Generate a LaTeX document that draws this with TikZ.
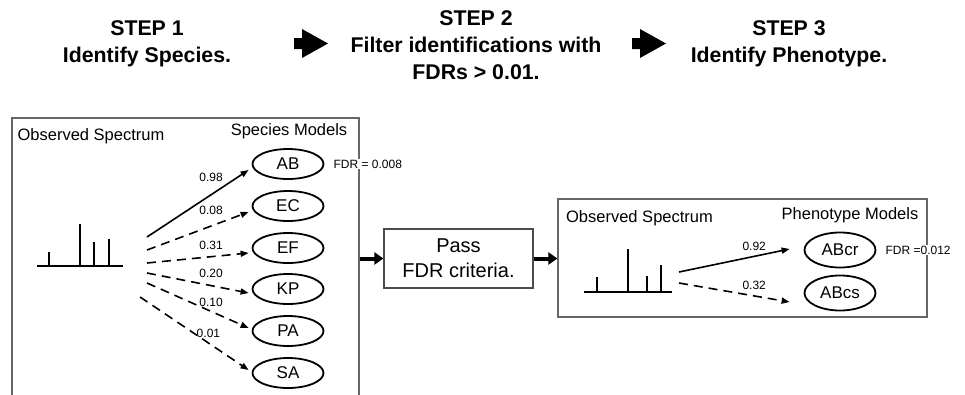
\documentclass[tikz,border=0pt]{standalone}
\usepackage{fontspec}
\setmainfont{Liberation Sans}
\usepackage{tikz}
\usetikzlibrary{arrows.meta,shapes.geometric,positioning}

\begin{document}
\begin{tikzpicture}[x=1pt,y=-1pt,
            title/.style={align=center, font=\fontsize{21.3}{27}\selectfont\bfseries},
            frame/.style={draw=black!60, line width=1.2pt, inner sep=0pt},
            txt/.style={font=\fontsize{16.5}{20}\selectfont, inner sep=0pt},
            model/.style={shape=ellipse, draw, line width=1.8pt, minimum width=71pt, minimum height=30pt, inner sep=0pt, font=\fontsize{17}{20}\selectfont},
            fdr/.style={fill=white, inner sep=1pt, font=\fontsize{12}{14}\selectfont},
            pval/.style={above, inner sep=2pt, font=\fontsize{12}{14}\selectfont},
            marr/.style={line width=1.6pt, -{Triangle[length=8pt,width=6pt]}},
            dsh/.style={dash pattern=on 9pt off 6pt},
            sld/.style={solid},
            bigarr/.style={line width=4pt, -{Triangle[length=9pt,width=12pt]}},
            spec/.style={line width=2.4pt}]
        \useasboundingbox (0,0) rectangle (965,394);
        \clip (0,0) rectangle (965,394);

        % steps
        \node[title] (step1) at (147,44) {STEP 1\\Identify Species.};
        \node[title] (step2) at (476,45) {STEP 2\\Filter identifications with\\FDRs > 0.01.};
        \node[title] (step3) at (789,44) {STEP 3\\Identify Phenotype.};
        \foreach \x in {294,632}
            \fill (\x,38) -- ++(8,0) -- ++(0,-9) -- ++(26,14.5) -- ++(-26,14.5) -- ++(0,-9) -- ++(-8,0) -- cycle;

        % species box
        \node[frame, minimum width=347pt, minimum height=300pt] (spbox) at (185.5,268) {};
        \node[txt] (obs1) at (91,136) {Observed Spectrum};
        \node[txt] (spm) at (289,131) {Species Models};
        \draw[spec] (37,266) -- (123,266);
        \foreach \px/\py in {49/252,80/224,94/242,109/239}
            \draw[spec] (\px,266) -- (\px,\py);

        \node[model] (ab) at (288,164) {AB};
        \node[model] (ec) at (288,206) {EC};
        \node[model] (ef) at (288,248) {EF};
        \node[model] (kp) at (288,289) {KP};
        \node[model] (pa) at (288,331) {PA};
        \node[model] (sa) at (288,373) {SA};

        \foreach \m/\sx/\sy/\dy/\p/\ly/\st in {ab/147/237/6/0.98/10/sld, ec/147/250/6/0.08/9/dsh,
                ef/147/263/5/0.31/4/dsh, kp/147/273/4/0.20/5/dsh, pa/147/283/-3/0.10/2/dsh, sa/140/297/-3/0.01/3/dsh}{
            \coordinate (from-\m) at (\sx,\sy);
            \draw[marr,\st] (from-\m) -- ([shift={(-3,\dy)}]\m.west) node[pval,pos=.63,yshift=\ly pt]{\p};
        }
        \node[fdr, right=8pt of ab] (fdrab) {FDR = 0.008};

        % pass
        \node[frame, draw=black!70, minimum width=149pt, minimum height=59pt, align=center,
              font=\fontsize{20}{25}\selectfont] (pass) at (458.5,258.5) {Pass\\FDR criteria.};

        % phenotype box
        \node[frame, minimum width=369pt, minimum height=118pt] (phbox) at (742.5,258) {};
        \draw[bigarr] (spbox.east |- pass.west) -- (pass.west);
        \draw[bigarr] (pass.east) -- (phbox.west |- pass.east);
        \node[txt] (obs2) at (639.5,218) {Observed Spectrum};
        \node[txt] (phm) at (850,215) {Phenotype Models};
        \draw[spec] (584,292) -- (672,292);
        \foreach \px/\py in {597/277,628/249,647/276,661/265}
            \draw[spec] (\px,292) -- (\px,\py);

        \node[model, minimum height=35pt] (abcr) at (840,250) {ABcr};
        \node[model, minimum height=35pt] (abcs) at (840,293) {ABcs};
        \coordinate (from-abcr) at (679,272);
        \coordinate (from-abcs) at (679,283);
        \draw[marr] (from-abcr) -- ([shift={(-14,-1)}]abcr.west) node[pval,pos=.68,yshift=3pt]{0.92};
        \draw[marr,dsh] (from-abcs) -- ([shift={(-14,9)}]abcs.west) node[pval,pos=.68,yshift=4pt]{0.32};
        \node[fdr, right=8pt of abcr] (fdrabcr) {FDR =0.012};
    \end{tikzpicture}
\end{document}
